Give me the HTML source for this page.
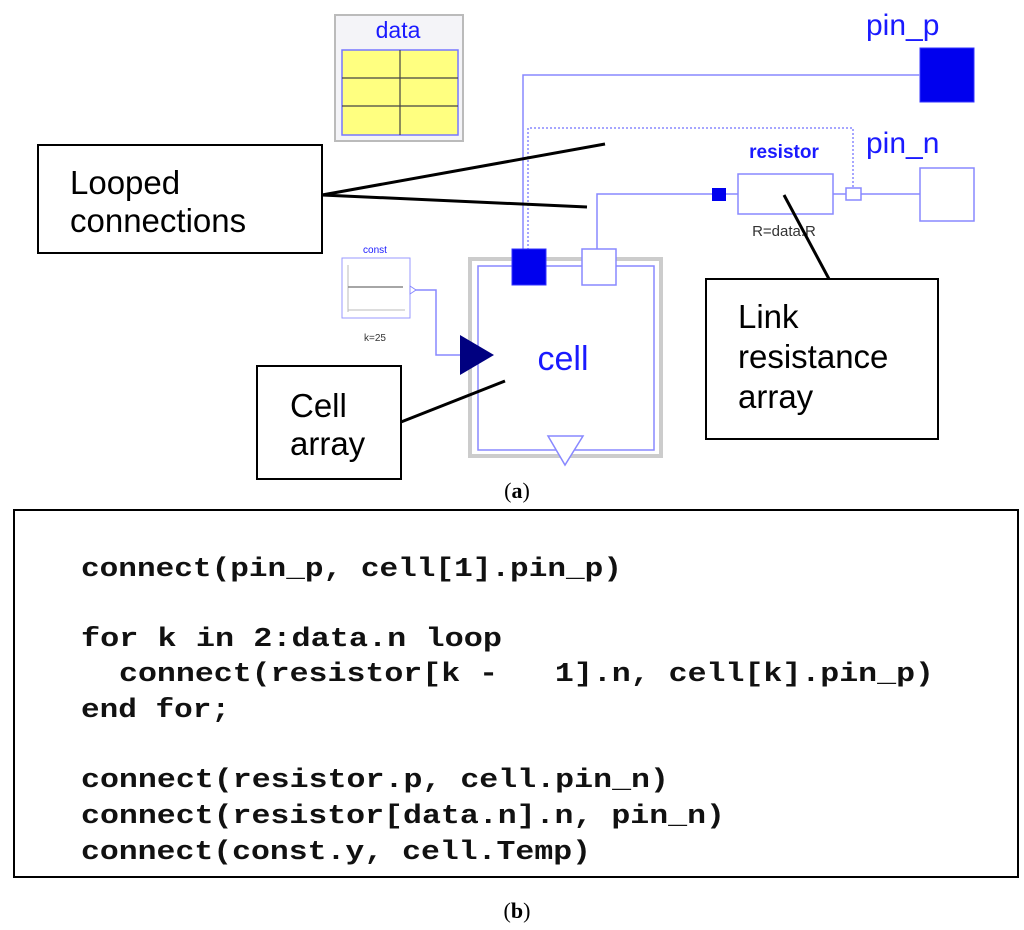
<!DOCTYPE html>
<html><head><meta charset="utf-8"><style>body{margin:0;background:#fff}svg{display:block}</style></head><body>
<svg width="1024" height="930" viewBox="0 0 1024 930" xmlns="http://www.w3.org/2000/svg">
<rect width="1024" height="930" fill="#fff"/>
<!-- data -->
<rect x="335" y="15" width="128" height="126" fill="#f4f4f8" stroke="#bbb" stroke-width="2"/>
<text x="398" y="38" font-family="Liberation Sans,sans-serif" font-size="23" fill="#1a1aff" text-anchor="middle">data</text>
<rect x="342" y="50" width="116" height="85" fill="#ffff80" stroke="#7777ff" stroke-width="1.5"/>
<g stroke="#444" stroke-width="1.2"><line x1="400" y1="50" x2="400" y2="135"/><line x1="342" y1="78" x2="458" y2="78"/><line x1="342" y1="106" x2="458" y2="106"/></g>
<!-- pins -->
<text x="866" y="35" font-family="Liberation Sans,sans-serif" font-size="30" fill="#1a1aff">pin_p</text>
<rect x="920" y="48" width="54" height="54" fill="#0000ee" stroke="#3333ff"/>
<text x="866" y="153" font-family="Liberation Sans,sans-serif" font-size="30" fill="#1a1aff">pin_n</text>
<rect x="920" y="168" width="54" height="53" fill="#fff" stroke="#8888ff" stroke-width="1.5"/>
<g stroke="#8888ff" stroke-width="1.5" fill="none">
<polyline points="920,75 523,75 523,250"/>
<polyline points="528,250 528,128 853,128 853,188" stroke-dasharray="2,2"/>
<polyline points="597,250 597,194 712,194"/>
<line x1="726" y1="194" x2="738" y2="194"/>
<line x1="833" y1="194" x2="846" y2="194"/>
<line x1="861" y1="194" x2="920" y2="194"/>
<polyline points="412,290 436,290 436,355 460,355"/>
</g>
<!-- resistor -->
<text x="784" y="158" font-family="Liberation Sans,sans-serif" font-size="19" font-weight="bold" fill="#1a1aff" text-anchor="middle">resistor</text>
<rect x="738" y="174" width="95" height="40" fill="#fff" stroke="#8888ff" stroke-width="1.5"/>
<rect x="712" y="188" width="14" height="13" fill="#0000ee"/>
<rect x="846" y="188" width="15" height="12" fill="#fff" stroke="#8888ff" stroke-width="1.5"/>
<text x="784" y="236" font-family="Liberation Sans,sans-serif" font-size="15" fill="#333" text-anchor="middle">R=data.R</text>
<!-- cell -->
<rect x="470" y="259" width="191" height="197" fill="#fff" stroke="#ccc" stroke-width="4"/>
<rect x="478" y="266" width="176" height="184" fill="none" stroke="#8888ff" stroke-width="1.5"/>
<rect x="512" y="249" width="34" height="36" fill="#0000ee" stroke="#3333ff"/>
<rect x="582" y="249" width="34" height="36" fill="#fff" stroke="#8888ff" stroke-width="1.5"/>
<polygon points="548,436 583,436 565,465" fill="#fff" stroke="#8888ff" stroke-width="1.5"/>
<polygon points="460,335 460,375 494,355" fill="#000080"/>
<text x="563" y="370" font-family="Liberation Sans,sans-serif" font-size="34" fill="#1a1aff" text-anchor="middle">cell</text>
<!-- const -->
<text x="375" y="253" font-family="Liberation Sans,sans-serif" font-size="10" fill="#1a1aff" text-anchor="middle">const</text>
<rect x="342" y="258" width="68" height="60" fill="#fff" stroke="#9999ff"/>
<g stroke="#bbb"><line x1="348" y1="265" x2="348" y2="312"/><line x1="348" y1="310" x2="405" y2="310"/></g>
<line x1="348" y1="287" x2="403" y2="287" stroke="#888" stroke-width="1.5"/>
<polygon points="410,286 416,290 410,294" fill="#fff" stroke="#8888ff"/>
<text x="375" y="341" font-family="Liberation Sans,sans-serif" font-size="10" fill="#333" text-anchor="middle">k=25</text>
<!-- callouts -->
<g stroke="#000" stroke-width="3" fill="none">
<line x1="322" y1="195" x2="605" y2="144"/>
<line x1="322" y1="195" x2="587" y2="207"/>
<line x1="401" y1="422" x2="505" y2="381"/>
<line x1="784" y1="195" x2="829" y2="279"/>
</g>
<g stroke="#000" stroke-width="2" fill="#fff">
<rect x="38" y="145" width="284" height="108"/>
<rect x="257" y="366" width="144" height="113"/>
<rect x="706" y="279" width="232" height="160"/>
</g>
<g font-family="Liberation Sans,sans-serif" font-size="33" fill="#000">
<text x="70" y="194">Looped</text><text x="70" y="232">connections</text>
<text x="290" y="417">Cell</text><text x="290" y="455">array</text>
<text x="738" y="328">Link</text><text x="738" y="368">resistance</text><text x="738" y="408">array</text>
</g>
<text x="517" y="498" font-family="Liberation Serif,serif" font-size="22" text-anchor="middle">(<tspan font-weight="bold">a</tspan>)</text>
<rect x="14" y="510" width="1004" height="367" fill="#fff" stroke="#000" stroke-width="2"/>
<g font-family="Liberation Mono,monospace" font-size="27" font-weight="bold" fill="#111">
<text x="81" y="576" textLength="541" lengthAdjust="spacingAndGlyphs">connect(pin_p, cell[1].pin_p)</text>
<text x="81" y="646" textLength="421" lengthAdjust="spacingAndGlyphs">for k in 2:data.n loop</text>
<text x="119" y="681" textLength="815" lengthAdjust="spacingAndGlyphs" xml:space="preserve">connect(resistor[k -   1].n, cell[k].pin_p)</text>
<text x="81" y="717" textLength="149" lengthAdjust="spacingAndGlyphs">end for;</text>
<text x="81" y="787" textLength="588" lengthAdjust="spacingAndGlyphs">connect(resistor.p, cell.pin_n)</text>
<text x="81" y="823" textLength="644" lengthAdjust="spacingAndGlyphs">connect(resistor[data.n].n, pin_n)</text>
<text x="81" y="859" textLength="510" lengthAdjust="spacingAndGlyphs">connect(const.y, cell.Temp)</text>
</g>
<text x="517" y="918" font-family="Liberation Serif,serif" font-size="22" text-anchor="middle">(<tspan font-weight="bold">b</tspan>)</text>
</svg>
</body></html>
